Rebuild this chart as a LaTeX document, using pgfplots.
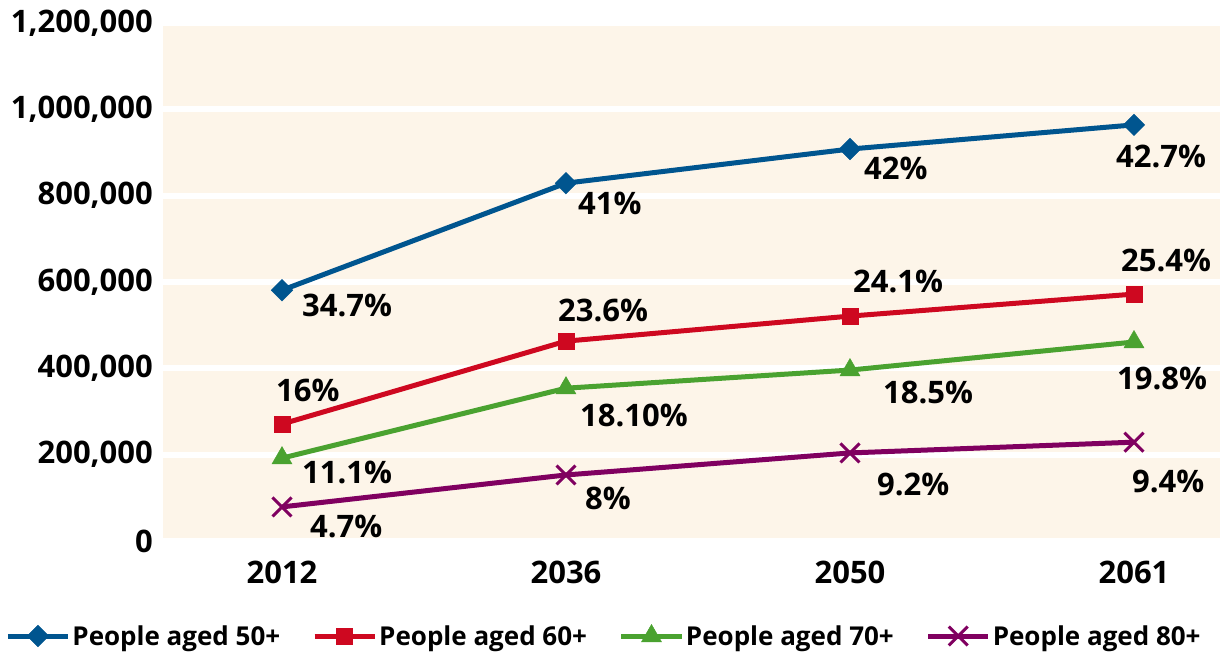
\documentclass[border=0pt]{standalone}
\usepackage{fontspec}
\setmainfont{Open Sans}
\usepackage{pgfplots}
\pgfplotsset{compat=1.18}
\definecolor{cblue}{RGB}{0,85,143}
\definecolor{cred}{RGB}{206,8,32}
\definecolor{cgreen}{RGB}{74,162,48}
\definecolor{cpurple}{RGB}{128,0,96}
\definecolor{cream}{RGB}{253,245,233}
\tikzset{lbl/.style={font=\fontsize{31}{36}\bfseries\selectfont, inner sep=0pt, anchor=west}}
\begin{document}
\begin{tikzpicture}
\begin{axis}[
  at={(0pt,0pt)}, anchor=south west,
  width=1057pt, height=518pt, scale only axis,
  xmin=-0.419, xmax=3.303, ymin=0, ymax=1200000,
  axis background/.style={fill=cream},
  axis line style={draw=none},
  major tick length=0pt,
  ymajorgrids, grid style={white, line width=6pt},
  ytick={0,200000,400000,600000,800000,1000000,1200000},
  scaled y ticks=false,
  /pgf/number format/.cd, fixed, 1000 sep={,}, assume math mode=true, /pgfplots/.cd,
  tick label style={font=\fontsize{31}{31}\bfseries\selectfont, inner sep=0pt},
  yticklabel style={xshift=-10pt},
  xtick={0,1,2,3}, xticklabels={2012,2036,2050,2061},
  xticklabel style={yshift=-20pt},
  clip=false,
  legend columns=4,
  legend style={at={(0.4172,-0.1834)}, anchor=center, draw=none, fill=none,
    font=\fontsize{26}{26}\bfseries\selectfont,
    /tikz/every even column/.append style={column sep=30pt}},
  legend image code/.code={\draw[mark repeat=2,mark phase=2,#1] plot coordinates {(0pt,0pt) (30pt,0pt) (60pt,0pt)};},
  every axis plot/.append style={line width=5pt},
]
\addplot[cblue, mark=square*, mark size=7.6pt, mark options={rotate=45, line width=0.5pt}]
  coordinates {(0,581000) (1,829000) (2,908000) (3,964000)};
\addlegendentry{People aged 50+}
\addplot[cred, mark=square*, mark size=8pt, mark options={line width=0.5pt}]
  coordinates {(0,271000) (1,463000) (2,521000) (3,572000)};
\addlegendentry{People aged 60+}
\addplot[cgreen, mark=triangle*, mark size=11.5pt, mark options={line width=0.5pt}]
  coordinates {(0,192000) (1,354000) (2,396000) (3,461000)};
\addlegendentry{People aged 70+}
\addplot[cpurple, mark=x, mark size=13.4pt, mark options={line width=3pt}]
  coordinates {(0,79000) (1,153000) (2,204000) (3,229000)};
\addlegendentry{People aged 80+}

\node[lbl, xshift=20pt, yshift=-15pt] at (axis cs:0,581000) {34.7\%};
\node[lbl, xshift=12pt, yshift=-20pt] at (axis cs:1,829000) {41\%};
\node[lbl, xshift=14pt, yshift=-19pt] at (axis cs:2,908000) {42\%};
\node[lbl, xshift=-18pt, yshift=-32pt] at (axis cs:3,964000) {42.7\%};

\node[lbl, xshift=-6pt, yshift=34pt] at (axis cs:0,271000) {16\%};
\node[lbl, xshift=-8pt, yshift=31pt] at (axis cs:1,463000) {23.6\%};
\node[lbl, xshift=3pt, yshift=35pt] at (axis cs:2,521000) {24.1\%};
\node[lbl, xshift=-13pt, yshift=34pt] at (axis cs:3,572000) {25.4\%};

\node[lbl, xshift=20pt, yshift=-14pt] at (axis cs:0,192000) {11.1\%};
\node[lbl, xshift=14pt, yshift=-27pt] at (axis cs:1,354000) {18.10\%};
\node[lbl, xshift=33pt, yshift=-22pt] at (axis cs:2,396000) {18.5\%};
\node[lbl, xshift=-17pt, yshift=-36pt] at (axis cs:3,461000) {19.8\%};

\node[lbl, xshift=28pt, yshift=-20pt] at (axis cs:0,79000) {4.7\%};
\node[lbl, xshift=19pt, yshift=-23pt] at (axis cs:1,153000) {8\%};
\node[lbl, xshift=27pt, yshift=-32pt] at (axis cs:2,204000) {9.2\%};
\node[lbl, xshift=-2pt, yshift=-39pt] at (axis cs:3,229000) {9.4\%};
\end{axis}
\pgfresetboundingbox
\useasboundingbox (-163pt,-110pt) rectangle (1059pt,541pt);
\end{tikzpicture}
\end{document}
